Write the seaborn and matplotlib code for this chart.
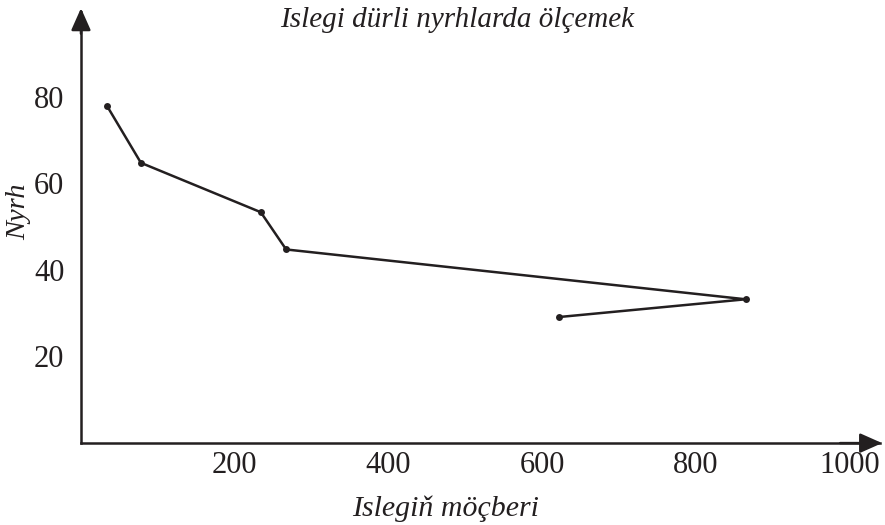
import pandas as pd
import matplotlib.pyplot as plt
import seaborn as sns

# data
amount = [34, 78, 234, 267, 865, 622]
price = [77.8, 64.7, 53.3, 44.7, 33.2, 29.1]

x_ticks = [200, 400, 600, 800, 1000]
y_ticks = [20, 40, 60, 80]

title = "Islegi dürli nyrhlarda ölçemek"
x_label = "Islegiň möçberi"
y_label = "Nyrh"

df = pd.DataFrame({"amount": amount, "price": price})

sns.set_style("white")
plt.rcParams["font.family"] = ["Liberation Serif", "DejaVu Serif"]

fig = plt.figure(figsize=(8.85, 5.25), dpi=100)
ax = fig.add_axes([0.0915, 0.156, 0.903, 0.821])

ink = "#231f20"

sns.lineplot(
    data=df,
    x="amount",
    y="price",
    sort=False,
    marker="o",
    markersize=5,
    markeredgewidth=0,
    color=ink,
    linewidth=1.8,
    ax=ax
)

ax.set_xlim(0, 1040)
ax.set_ylim(0, 99.5)

ax.set_xticks(x_ticks)
ax.set_yticks(y_ticks)
ax.tick_params(axis="x", length=0, pad=6, labelsize=22, colors=ink)
ax.tick_params(axis="y", length=0, pad=12, labelsize=22, colors=ink)

for side in ["top", "right"]:
    ax.spines[side].set_visible(False)
for side in ["left", "bottom"]:
    ax.spines[side].set_color(ink)
    ax.spines[side].set_linewidth(1.8)

# arrow heads on the axes
head = dict(arrowstyle="-|>,head_length=1.35,head_width=0.6", color=ink,
            lw=1.8, shrinkA=0, shrinkB=0, mutation_scale=10)
ax.annotate("", xy=(1.0025, 0), xytext=(0.95, 0), xycoords="axes fraction",
            arrowprops=head, annotation_clip=False)
ax.annotate("", xy=(0, 1.009), xytext=(0, 0.95), xycoords="axes fraction",
            arrowprops=head, annotation_clip=False)

ax.set_xlabel(x_label, fontsize=21.5, fontstyle="italic", color=ink, va="center")
ax.xaxis.set_label_coords(0.456, -0.152)
ax.set_ylabel(y_label, fontsize=20.5, fontstyle="italic", color=ink, va="center")
ax.yaxis.set_label_coords(-0.0776, 0.536)
fig.text(0.516, 0.962, title, fontsize=21, fontstyle="italic", color=ink, ha="center", va="center")

fig.savefig("out.png", dpi=100)
